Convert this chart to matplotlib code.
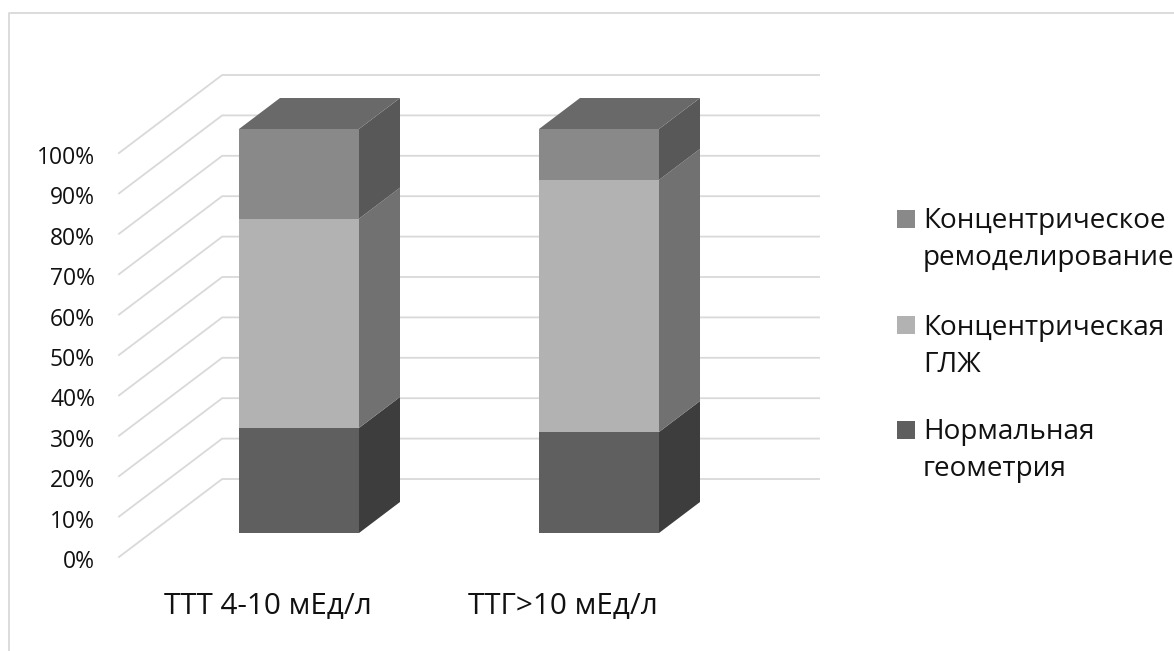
import matplotlib
matplotlib.use("Agg")
import matplotlib.pyplot as plt
from matplotlib.patches import Polygon, Rectangle

categories = ["ТТТ 4-10 мЕд/л", "ТТГ>10 мЕд/л"]
series_names = ["Нормальная\nгеометрия", "Концентрическая\nГЛЖ", "Концентрическое\nремоделирование"]
normal = [26.0, 25.0]
conc_glzh = [51.8, 62.4]
conc_rem = [22.2, 12.6]
y_ticks = list(range(0, 101, 10))
y_labels = [f"{t}%" for t in y_ticks]

front_cols = ["#5f5f5f", "#b2b2b2", "#898989"]
side_cols = ["#3d3d3d", "#717171", "#585858"]
top_col = "#696969"
FONT = "Open Sans"
TXT = "#111111"

W, H = 1174, 651
fig = plt.figure(figsize=(W / 100, H / 100), dpi=100, facecolor="white")
ax = fig.add_axes([0, 0, 1, 1])
PX_X = 300.0
PX_Y = 4.04
ax.set_xlim(-299 / PX_X, (W - 299) / PX_X)
ax.set_ylim((533 - H) / PX_Y, 533 / PX_Y)
ax.axis("off")

DX = 41 / PX_X
DY = 31 / PX_Y
half = 60 / PX_X

def pt(x, pct, d=0.0):
    return (x + d * DX, pct + d * DY)

# outer frame (left and top edges run off the picture)
ax.plot([8.5 / W, 8.5 / W, 1], [0, 1 - 12.5 / H, 1 - 12.5 / H], transform=ax.transAxes,
        color="#d9d9d9", lw=1.3, zorder=1)

# walls and grid
d_front, d_back = -24 / 31, 54 / 31
x_left = (119 - 299) / PX_X - d_front * DX
x_right = (819 - 299) / PX_X - d_back * DX
for t, lab in zip(y_ticks, y_labels):
    p0, p1, p2 = pt(x_left, t, d_front), pt(x_left, t, d_back), pt(x_right, t, d_back)
    ax.plot([p0[0], p1[0], p2[0]], [p0[1], p1[1], p2[1]], color="#d9d9d9", lw=1.3, zorder=1)
    ax.text(p0[0] - 24 / PX_X, p0[1] - 11 / PX_Y, lab, ha="right", va="baseline", family=FONT,
            fontsize=16.5, color=TXT)

# stacked 3D bars
stacks = [normal, conc_glzh, conc_rem]
for i, cat in enumerate(categories):
    base = 0.0
    l, r = i - half, i + half
    for s, vals in enumerate(stacks):
        v = vals[i]
        ax.add_patch(Rectangle((l, base), r - l, v, fc=front_cols[s], ec="none", zorder=3))
        ax.add_patch(Polygon([pt(r, base), pt(r, base, 1), pt(r, base + v, 1), pt(r, base + v)],
                             fc=side_cols[s], ec="none", zorder=3))
        base += v
    ax.add_patch(Polygon([pt(l, base), pt(r, base), pt(r, base, 1), pt(l, base, 1)],
                         fc=top_col, ec="none", zorder=3))

# category labels
label_x = [(268 - 299) / PX_X, (563 - 299) / PX_X]
label_y = (533 - 614) / PX_Y
for x, cat in zip(label_x, categories):
    ax.text(x, label_y, cat, ha="center", va="baseline", family=FONT, fontsize=21.3, color=TXT)

# legend, top to bottom in reversed series order
for ycen, ysq, s in [(239.5, 219, 2), (346.5, 325, 1), (450.5, 430, 0)]:
    ax.add_patch(Rectangle((897 / W, 1 - (ysq + 9) / H), 18 / W, 18 / H, transform=ax.transAxes,
                           fc=front_cols[s], ec="none"))
    ax.text(923 / W, 1 - ycen / H, series_names[s], transform=ax.transAxes, ha="left", va="center",
            family=FONT, fontsize=20.1, color=TXT, linespacing=1.44)

fig.savefig("out.png", dpi=100, facecolor="white")
